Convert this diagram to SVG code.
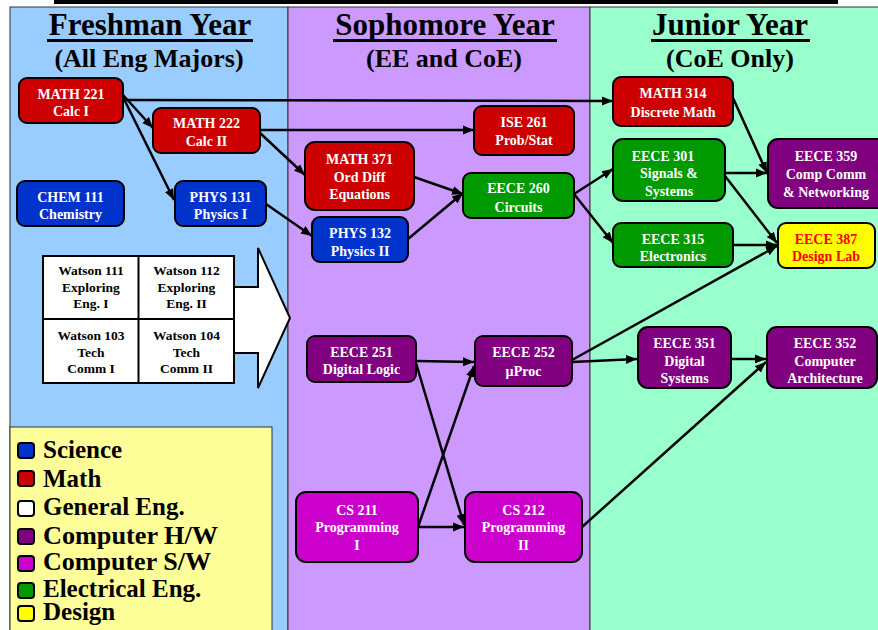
<svg xmlns="http://www.w3.org/2000/svg" width="878" height="630" viewBox="0 0 878 630">
<defs>
<marker id="ah" markerUnits="userSpaceOnUse" markerWidth="12" markerHeight="10" refX="11" refY="5" orient="auto">
<path d="M0,0.5 L11,5 L0,9.5 z" fill="#000"/>
</marker>
<style>
.t{font-family:"Liberation Serif","Times New Roman",serif;font-weight:bold;text-anchor:middle}
.n{font-size:14px;fill:#fff}
.h{font-size:31px;fill:#000}
.s{font-size:26px;fill:#000}
.w{font-size:13.5px;fill:#000}
.lg{font-family:"Liberation Serif","Times New Roman",serif;font-weight:bold;font-size:25px;fill:#000}
.box{stroke:#000;stroke-width:2}
.c{fill:none;stroke:#000;stroke-width:2.5;marker-end:url(#ah)}
.red{fill:#CC0000}.blue{fill:#0033CC}.green{fill:#009900}.purp{fill:#800080}.mag{fill:#CC00CC}.yel{fill:#FFFF00}
</style>
</defs>
<rect x="0" y="0" width="878" height="630" fill="#fff"/>
<rect x="54" y="0" width="784" height="4" fill="#000"/>
<g id="panels">
<rect x="10" y="7" width="278" height="630" fill="#99CCFF" stroke="#333" stroke-width="1"/>
<rect x="288" y="7" width="302" height="630" fill="#CC99FF" stroke="#333" stroke-width="1"/>
<rect x="590" y="7" width="300" height="630" fill="#99FFCC" stroke="#333" stroke-width="1"/>
</g>
<g id="headings">
<text class="t h" x="150" y="35">Freshman Year</text>
<rect x="47" y="39" width="206" height="3" fill="#000"/>
<text class="t s" x="149" y="67">(All Eng Majors)</text>
<text class="t h" x="445" y="35">Sophomore Year</text>
<rect x="333" y="39" width="224" height="3" fill="#000"/>
<text class="t s" x="444" y="67">(EE and CoE)</text>
<text class="t h" x="730" y="35">Junior Year</text>
<rect x="651" y="39" width="159" height="3" fill="#000"/>
<text class="t s" x="730" y="67">(CoE Only)</text>
</g>
<g id="bigarrow">
<polygon points="234,287 258,287 258,248 290,318 258,388 258,353 234,353" fill="#fff" stroke="#000" stroke-width="2"/>
</g>
<g id="watson">
<rect x="43" y="256" width="191" height="127" fill="#fff" stroke="#000" stroke-width="2"/>
<line x1="138.5" y1="256" x2="138.5" y2="383" stroke="#000" stroke-width="2"/>
<line x1="43" y1="319" x2="234" y2="319" stroke="#000" stroke-width="2"/>
<text class="t w" x="91" y="275">Watson 111</text>
<text class="t w" x="91" y="292">Exploring</text>
<text class="t w" x="91" y="308">Eng. I</text>
<text class="t w" x="186.5" y="275">Watson 112</text>
<text class="t w" x="186.5" y="292">Exploring</text>
<text class="t w" x="186.5" y="308">Eng. II</text>
<text class="t w" x="91" y="340">Watson 103</text>
<text class="t w" x="91" y="357">Tech</text>
<text class="t w" x="91" y="373">Comm I</text>
<text class="t w" x="186.5" y="340">Watson 104</text>
<text class="t w" x="186.5" y="357">Tech</text>
<text class="t w" x="186.5" y="373">Comm II</text>
</g>
<g id="legend">
<rect x="10" y="427" width="262" height="220" fill="#FFFF99" stroke="#333" stroke-width="1"/>
<rect class="box blue" x="18" y="443" width="16" height="15" rx="3" stroke-width="1.5"/>
<rect class="box red" x="18" y="471" width="16" height="15" rx="3" stroke-width="1.5"/>
<rect class="box" x="18" y="501" width="16" height="15" rx="3" fill="#fff" stroke-width="1.5"/>
<rect class="box purp" x="18" y="529" width="16" height="15" rx="3" stroke-width="1.5"/>
<rect class="box mag" x="18" y="556" width="16" height="15" rx="3" stroke-width="1.5"/>
<rect class="box green" x="18" y="583" width="16" height="15" rx="3" stroke-width="1.5"/>
<rect class="box yel" x="18" y="606" width="16" height="15" rx="3" stroke-width="1.5"/>
<text class="lg" x="43" y="458">Science</text>
<text class="lg" x="43" y="487">Math</text>
<text class="lg" x="43" y="515">General Eng.</text>
<text class="lg" x="43" y="544" textLength="175" lengthAdjust="spacingAndGlyphs">Computer H/W</text>
<text class="lg" x="43" y="570" textLength="168" lengthAdjust="spacingAndGlyphs">Computer S/W</text>
<text class="lg" x="43" y="597">Electrical Eng.</text>
<text class="lg" x="43" y="620">Design</text>
</g>
<g id="connectors">
<path class="c" d="M123,100 L613,101"/>
<path class="c" d="M123,95 L153,128"/>
<path class="c" d="M123,97 L174,200"/>
<path class="c" d="M260,130 L474,130"/>
<path class="c" d="M260,133 L305,175"/>
<path class="c" d="M266,204 L312,236"/>
<path class="c" d="M414,177 L463,194"/>
<path class="c" d="M408,239 L463,193"/>
<path class="c" d="M574,194 L613,169"/>
<path class="c" d="M574,194 L613,243"/>
<path class="c" d="M733,98 L767,173"/>
<path class="c" d="M725,173 L767,173"/>
<path class="c" d="M725,176 L777,243"/>
<path class="c" d="M733,245 L777,245"/>
<path class="c" d="M572,360 L777,246"/>
<path class="c" d="M572,362 L637,359"/>
<path class="c" d="M731,359 L766,359"/>
<path class="c" d="M582,527 L766,362"/>
<path class="c" d="M416,361 L474,362"/>
<path class="c" d="M416,363 L464,525"/>
<path class="c" d="M418,527 L474,366"/>
<path class="c" d="M418,527 L464,527"/>
</g>
<g id="math221"><rect class="box red" x="19" y="78" width="104" height="45" rx="8"/><text class="t n" x="71" y="99">MATH 221</text><text class="t n" x="71" y="116">Calc I</text></g>
<g id="math222"><rect class="box red" x="153" y="108" width="107" height="45" rx="8"/><text class="t n" x="206.5" y="128">MATH 222</text><text class="t n" x="206.5" y="146">Calc II</text></g>
<g id="chem111"><rect class="box blue" x="17" y="181" width="107" height="45" rx="8"/><text class="t n" x="70.5" y="202">CHEM 111</text><text class="t n" x="70.5" y="219">Chemistry</text></g>
<g id="phys131"><rect class="box blue" x="175" y="181" width="91" height="45" rx="8"/><text class="t n" x="220.5" y="202">PHYS 131</text><text class="t n" x="220.5" y="219">Physics I</text></g>
<g id="math371"><rect class="box red" x="305" y="142" width="109" height="68" rx="10"/><text class="t n" x="359.5" y="164">MATH 371</text><text class="t n" x="359.5" y="182">Ord Diff</text><text class="t n" x="359.5" y="199">Equations</text></g>
<g id="phys132"><rect class="box blue" x="312" y="217" width="96" height="45" rx="8"/><text class="t n" x="360" y="238">PHYS 132</text><text class="t n" x="360" y="256">Physics II</text></g>
<g id="ise261"><rect class="box red" x="474" y="106" width="100" height="49" rx="8"/><text class="t n" x="524" y="127">ISE 261</text><text class="t n" x="524" y="145">Prob/Stat</text></g>
<g id="eece260"><rect class="box green" x="463" y="173" width="111" height="45" rx="8"/><text class="t n" x="518.5" y="193">EECE 260</text><text class="t n" x="518.5" y="212">Circuits</text></g>
<g id="eece251"><rect class="box purp" x="307" y="336" width="109" height="46" rx="8"/><text class="t n" x="361.5" y="357">EECE 251</text><text class="t n" x="361.5" y="374">Digital Logic</text></g>
<g id="eece252"><rect class="box purp" x="475" y="336" width="97" height="50" rx="8"/><text class="t n" x="523.5" y="357">EECE 252</text><text class="t n" x="523.5" y="376">µProc</text></g>
<g id="cs211"><rect class="box mag" x="296" y="492" width="122" height="70" rx="10"/><text class="t n" x="357" y="515">CS 211</text><text class="t n" x="357" y="532">Programming</text><text class="t n" x="357" y="550">I</text></g>
<g id="cs212"><rect class="box mag" x="465" y="492" width="117" height="70" rx="10"/><text class="t n" x="523.5" y="515">CS 212</text><text class="t n" x="523.5" y="532">Programming</text><text class="t n" x="523.5" y="550">II</text></g>
<g id="math314"><rect class="box red" x="613" y="77" width="120" height="49" rx="8"/><text class="t n" x="673" y="98">MATH 314</text><text class="t n" x="673" y="117">Discrete Math</text></g>
<g id="eece301"><rect class="box green" x="613" y="139" width="112" height="62" rx="10"/><text class="t n" x="663" y="161">EECE 301</text><text class="t n" x="669" y="178">Signals &amp;</text><text class="t n" x="669" y="196">Systems</text></g>
<g id="eece315"><rect class="box green" x="613" y="223" width="120" height="44" rx="8"/><text class="t n" x="673" y="244">EECE 315</text><text class="t n" x="673" y="261">Electronics</text></g>
<g id="eece359"><rect class="box purp" x="768" y="139" width="120" height="69" rx="10"/><text class="t n" x="826" y="161">EECE 359</text><text class="t n" x="826" y="179">Comp Comm</text><text class="t n" x="826" y="197">&amp; Networking</text></g>
<g id="eece387"><rect class="box yel" x="778" y="223" width="97" height="45" rx="8"/><text class="t n" x="826" y="244" style="fill:#FF0000">EECE 387</text><text class="t n" x="826" y="261" style="fill:#FF0000">Design Lab</text></g>
<g id="eece351"><rect class="box purp" x="638" y="327" width="93" height="61" rx="10"/><text class="t n" x="684.5" y="348">EECE 351</text><text class="t n" x="684.5" y="366">Digital</text><text class="t n" x="684.5" y="383">Systems</text></g>
<g id="eece352"><rect class="box purp" x="767" y="327" width="110" height="61" rx="10"/><text class="t n" x="825" y="348">EECE 352</text><text class="t n" x="825" y="366">Computer</text><text class="t n" x="825" y="383">Architecture</text></g>
</svg>
